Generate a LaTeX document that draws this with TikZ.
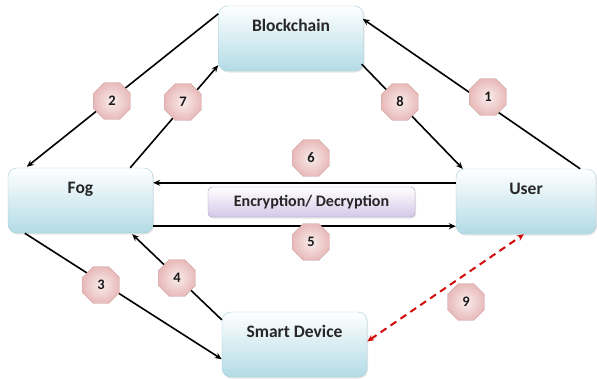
\documentclass[tikz,border=0pt]{standalone}
\usepackage{fontspec}
\setmainfont{Carlito}
\usetikzlibrary{calc,shapes.geometric,arrows.meta,shadows}
\definecolor{boxblue}{RGB}{178,219,230}
\definecolor{boxline}{RGB}{165,206,218}
\definecolor{lilac}{RGB}{212,200,232}
\definecolor{lilacline}{RGB}{168,150,198}
\definecolor{rosein}{RGB}{250,236,236}
\definecolor{roseout}{RGB}{232,186,186}
\definecolor{roseline}{RGB}{205,160,160}
\definecolor{linkred}{RGB}{210,10,10}
\tikzset{
 entity/.style={draw=boxline, rounded corners=9pt, top color=white, bottom color=boxblue,
  minimum width=145pt, inner xsep=0pt, inner ysep=0pt, text height=25pt, text depth=40pt,
  font=\fontsize{17.5}{20}\selectfont\bfseries, text=black!85,
  drop shadow={opacity=0.2, shadow xshift=1pt, shadow yshift=-1.5pt}},
 cipher/.style={draw=lilacline, rounded corners=4pt, top color=white, bottom color=lilac,
  minimum width=207pt, minimum height=30pt, inner sep=0pt,
  font=\fontsize{16}{18}\selectfont\bfseries, text=black!85,
  drop shadow={opacity=0.2, shadow xshift=1pt, shadow yshift=-1.5pt}},
 badge/.style={regular polygon, regular polygon sides=8, minimum size=40pt, inner sep=0pt,
  draw=roseline, inner color=rosein, outer color=roseout,
  font=\fontsize{14.5}{16}\selectfont\bfseries, text=black!90},
 flow/.style={line width=1.6pt, -{Stealth[length=7pt,width=6pt]}},
 link/.style={line width=2pt, linkred, dash pattern=on 7pt off 5pt,
  {Stealth[length=7pt,width=6pt]}-{Stealth[length=7pt,width=6pt]}}
}
\begin{document}
\begin{tikzpicture}[x=1pt,y=-1pt]
\useasboundingbox (0,0) rectangle (597,378);

\node[entity] (blk) at (291,38.5) {Blockchain};
\node[entity] (fog) at (80.5,200.5) {Fog};
\node[entity, minimum width=140pt] (user) at (526,201.5) {User};
\node[entity] (dev) at (294.5,344.5) {Smart Device};
\node[cipher] (enc) at (311.5,202) {Encryption/ Decryption};

% connectors
\draw[flow] ($(user.north east)+(-16,0)$) -- ($(blk.north east)+(-1,13)$);
\draw[flow] ($(blk.north west)+(0,8)$) -- ($(fog.north west)+(19,-1)$);
\draw[flow] ($(fog.north east)+(-23,0)$) -- ($(blk.south west)+(0,-6)$);
\draw[flow] ($(blk.south east)+(-2,-7)$) -- ($(user.north west)+(7,0)$);
\draw[flow] ($(fog.south west)+(17,0)$) -- ($(dev.south west)+(0,-18)$);
\draw[flow] ($(dev.north west)+(0,8)$) -- ($(fog.south east)+(-21,1)$);
\draw[flow] ($(fog.south east)+(0,-7)$) -- ($(user.south west)+(0,-8)$);
\draw[flow] ($(user.north west)+(0,14)$) -- ($(fog.north east)+(0,15)$);
\draw[link] ($(dev.east)+(0,-3)$) -- ($(user.south)+(-2,0)$);

% steps
\foreach \n/\x/\y in {1/488/97, 2/112/101, 3/101/285, 4/177/278, 5/311/242,
  6/311/158, 7/183/102, 8/400/102, 9/466/302}
 \node[badge] (s\n) at (\x,\y) {\n};
\end{tikzpicture}
\end{document}
